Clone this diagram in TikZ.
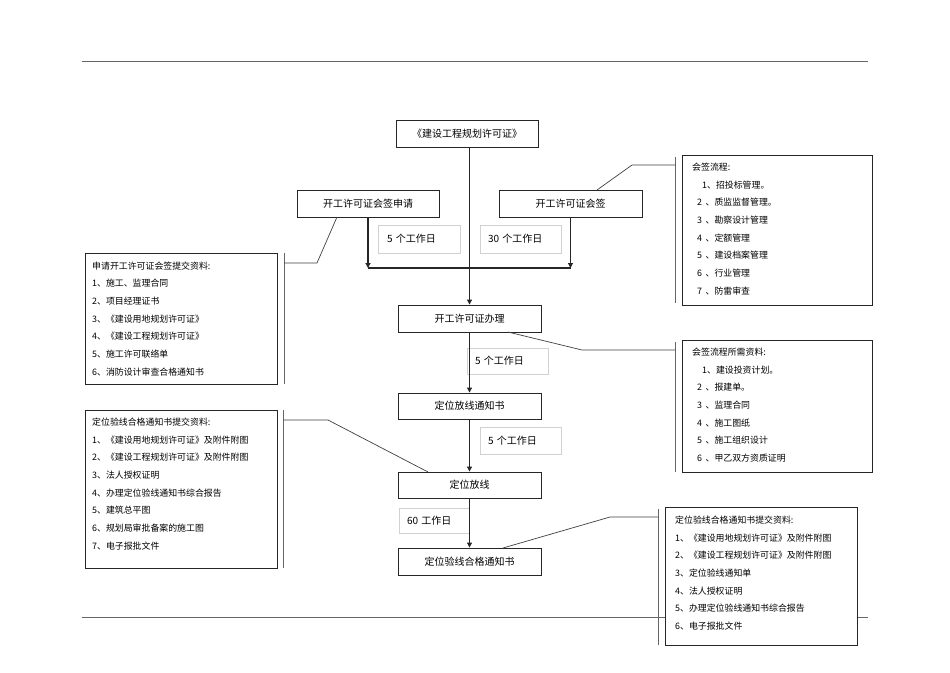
\documentclass[tikz,border=0pt]{standalone}
\usepackage{fontspec}
\setmainfont{Noto Sans CJK SC}
\usetikzlibrary{arrows.meta}
\newcommand\gsp{\hspace{3.5pt}}
\begin{document}
\begin{tikzpicture}[x=1pt,y=-1pt,
  box/.style={draw=black!85, line width=0.9pt, fill=white, inner sep=0pt, font=\fontsize{10}{12}\selectfont},
  lbl/.style={draw=black!18, line width=0.6pt, fill=white, inner ysep=0pt, align=left, font=\fontsize{10}{12}\selectfont},
  lst/.style={draw=black!85, line width=0.8pt, fill=white, inner sep=0pt},
  item/.style={anchor=west, inner sep=0pt, font=\fontsize{8.9}{10}\selectfont},
  flow/.style={draw=black!85, line width=1.1pt},
  arr/.style={flow, -{Triangle[length=5pt,width=5pt]}},
  call/.style={draw=black!75, line width=0.7pt},
  bar/.style={draw=black!60, line width=0.6pt},
  rule/.style={draw=black!60, line width=1pt}]
\useasboundingbox (0,0) rectangle (950,672);
\fill[white] (0,0) rectangle (950,672);

% page rules
\draw[rule] (82,61) -- (868,61);
\draw[rule] (82,617) -- (868,617);

% accent bars
\coordinate (barLa1) at (284,253); \coordinate (barLa2) at (284,384);
\coordinate (barLb1) at (283,410); \coordinate (barLb2) at (283,568);
\coordinate (barRa1) at (675,157); \coordinate (barRa2) at (675,303);
\coordinate (barRb1) at (675,342); \coordinate (barRb2) at (675,472);
\coordinate (barRc1) at (658,509); \coordinate (barRc2) at (658,645);
\draw[bar] (barLa1) -- (barLa2);
\draw[bar] (barLb1) -- (barLb2);
\draw[bar] (barRa1) -- (barRa2);
\draw[bar] (barRb1) -- (barRb2);
\draw[bar] (barRc1) -- (barRc2);

% list boxes
\node[lst, minimum width=192pt, minimum height=131pt] (La) at (181,318.5) {};
\node[lst, minimum width=192pt, minimum height=158pt] (Lb) at (181,489) {};
\node[lst, minimum width=190pt, minimum height=150pt] (Ra) at (777,230) {};
\node[lst, minimum width=190pt, minimum height=132pt] (Rb) at (777,406) {};
\node[lst, minimum width=192pt, minimum height=138pt] (Rc) at (761,576) {};

\foreach \t [count=\i from 0] in {申请开工许可证会签提交资料:, 1、施工、监理合同, 2、项目经理证书, 3、《建设用地规划许可证》, 4、《建设工程规划许可证》, 5、施工许可联络单, 6、消防设计审查合格通知书}
  \node[item] (La-\i) at (92,{266+17.6*\i}) {\t};

\foreach \t [count=\i from 0] in {定位验线合格通知书提交资料:, 1、《建设用地规划许可证》及附件附图, 2、《建设工程规划许可证》及附件附图, 3、法人授权证明, 4、办理定位验线通知书综合报告, 5、建筑总平图, 6、规划局审批备案的施工图, 7、电子报批文件}
  \node[item] (Lb-\i) at (92,{422+17.7*\i}) {\t};

\foreach \x/\t [count=\i from 0] in {692/会签流程:, 702/1、招投标管理。, 697/2\gsp、质监监督管理。, 697/3\gsp、勘察设计管理, 697/4\gsp、定额管理, 697/5\gsp、建设档案管理, 697/6\gsp、行业管理, 697/7\gsp、防雷审查}
  \node[item] (Ra-\i) at (\x,{167+17.7*\i}) {\t};

\foreach \x/\t [count=\i from 0] in {692/会签流程所需资料:, 702/1、建设投资计划。, 697/2\gsp、报建单。, 697/3\gsp、监理合同, 697/4\gsp、施工图纸, 697/5\gsp、施工组织设计, 697/6\gsp、甲乙双方资质证明}
  \node[item] (Rb-\i) at (\x,{352+17.7*\i}) {\t};

\foreach \t [count=\i from 0] in {定位验线合格通知书提交资料:, 1、《建设用地规划许可证》及附件附图, 2、《建设工程规划许可证》及附件附图, 3、定位验线通知单, 4、法人授权证明, 5、办理定位验线通知书综合报告, 6、电子报批文件}
  \node[item] (Rc-\i) at (675,{520+17.7*\i}) {\t};

% day labels
\node[lbl, minimum width=82pt, minimum height=28pt, inner xsep=9pt, text width=64pt] (d1) at (419,239) {5 个工作日};
\node[lbl, minimum width=81pt, minimum height=28pt, inner xsep=8pt, text width=65pt] (d2) at (520.5,239) {30 个工作日};
\node[lbl, minimum width=81pt, minimum height=26pt, inner xsep=8pt, text width=65pt] (d3) at (507.5,361) {5 个工作日};
\node[lbl, minimum width=81pt, minimum height=27pt, inner xsep=8pt, text width=65pt] (d4) at (520.5,440.5) {5 个工作日};
\node[lbl, minimum width=70pt, minimum height=25pt, inner xsep=8pt, text width=54pt] (d5) at (434,520.5) {60 工作日};

% flow boxes
\node[box, minimum width=142pt, minimum height=27pt] (b1) at (467,133.5) {《建设工程规划许可证》};
\node[box, minimum width=142pt, minimum height=27pt] (sq) at (368,203.5) {开工许可证会签申请};
\node[box, minimum width=143pt, minimum height=27pt] (hq) at (570.5,203.5) {开工许可证会签};
\node[box, minimum width=143pt, minimum height=27pt] (kb) at (469.5,318.5) {开工许可证办理};
\node[box, minimum width=143pt, minimum height=26pt] (tz) at (469.5,406) {定位放线通知书};
\node[box, minimum width=143pt, minimum height=26pt] (fx) at (469.5,485) {定位放线};
\node[box, minimum width=143pt, minimum height=27pt] (yz) at (469.5,561.5) {定位验线合格通知书};

% flow connectors
\coordinate (jl) at (368,268);
\coordinate (jr) at (570.5,268);
\draw[arr] (b1.south -| kb.north) -- (kb.north);
\draw[arr] (sq.south) -- (jl);
\draw[arr] (hq.south) -- (jr);
\draw[flow] (jl) -- (jr);
\draw[arr] (kb.south) -- (tz.north);
\draw[arr] (tz.south) -- (fx.north);
\draw[arr] (fx.south) -- (yz.north);

% callouts
\coordinate (c1a) at (337,217); \coordinate (c1b) at (317,263); \coordinate (c1c) at (284,263);
\draw[call] (c1a) -- (c1b) -- (c1c);
\coordinate (c2a) at (597,190); \coordinate (c2b) at (632,165); \coordinate (c2c) at (675,165);
\draw[call] (c2a) -- (c2b) -- (c2c);
\coordinate (c3a) at (508,332); \coordinate (c3b) at (582,350); \coordinate (c3c) at (675,350);
\draw[call] (c3a) -- (c3b) -- (c3c);
\coordinate (c4a) at (428,472); \coordinate (c4b) at (328,420); \coordinate (c4c) at (283,420);
\draw[call] (c4a) -- (c4b) -- (c4c);
\coordinate (c5a) at (503,548); \coordinate (c5b) at (610,517); \coordinate (c5c) at (658,517);
\draw[call] (c5a) -- (c5b) -- (c5c);
\end{tikzpicture}
\end{document}
